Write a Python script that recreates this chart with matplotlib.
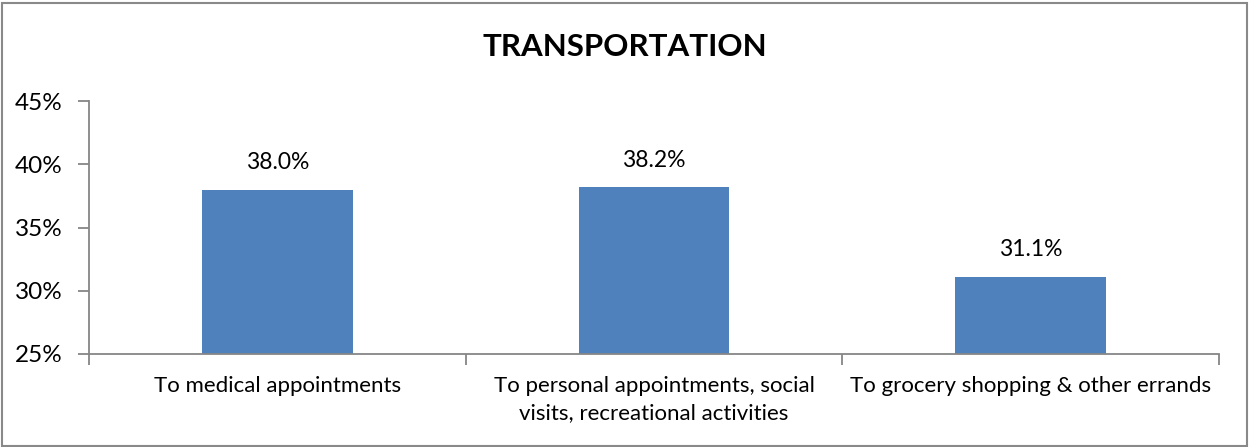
import matplotlib
matplotlib.use("Agg")
import matplotlib.pyplot as plt
from matplotlib.patches import Rectangle
from matplotlib.ticker import FixedLocator, PercentFormatter

categories = [
    "To medical appointments",
    "To personal appointments, social\nvisits, recreational activities",
    "To grocery shopping & other errands",
]
values = [38.0, 38.2, 31.1]
y_ticks = [25, 30, 35, 40, 45]
title = "TRANSPORTATION"

plt.rcParams["font.family"] = ["Lato", "DejaVu Sans"]

W, H = 1249, 447
fig = plt.figure(figsize=(W / 100, H / 100), dpi=100)
ax = fig.add_axes([89 / W, 1 - 354 / H, (1219 - 89) / W, (354 - 101) / H])

bar_color = "#4F81BD"
axis_color = "#868686"

x = list(range(len(categories)))
ax.bar(x, values, width=0.4, color=bar_color, zorder=2)
for xi, v in zip(x, values):
    ax.text(xi, v + 1.3, f"{v:.1f}%", ha="center", va="bottom", fontsize=16.5, color="#000000")

ax.set_xlim(-0.5, len(categories) - 0.5)
ax.set_ylim(y_ticks[0], y_ticks[-1])
ax.set_yticks(y_ticks)
ax.yaxis.set_major_formatter(PercentFormatter(decimals=0))

ax.set_xticks(x)
ax.set_xticklabels(categories, fontsize=16, linespacing=1.4)
ax.xaxis.set_minor_locator(FixedLocator([i - 0.5 for i in range(len(categories) + 1)]))
ax.tick_params(axis="x", which="major", length=0, pad=16)
ax.tick_params(axis="x", which="minor", length=8, width=1.3, color=axis_color, direction="out")
ax.tick_params(axis="y", length=8, width=1.3, color=axis_color, direction="out", labelsize=17.5, pad=11)

for side in ("top", "right"):
    ax.spines[side].set_visible(False)
for side in ("left", "bottom"):
    ax.spines[side].set_color(axis_color)
    ax.spines[side].set_linewidth(1.3)

fig.text(625 / W, 1 - 47 / H, title, ha="center", va="center", fontsize=22.5, fontweight="bold")

fig.patches.append(Rectangle((1.5 / W, 1.5 / H), (W - 4) / W, (H - 4) / H,
                             transform=fig.transFigure, fill=False,
                             edgecolor="#898989", linewidth=1.5))

fig.savefig("out.png", dpi=100)
